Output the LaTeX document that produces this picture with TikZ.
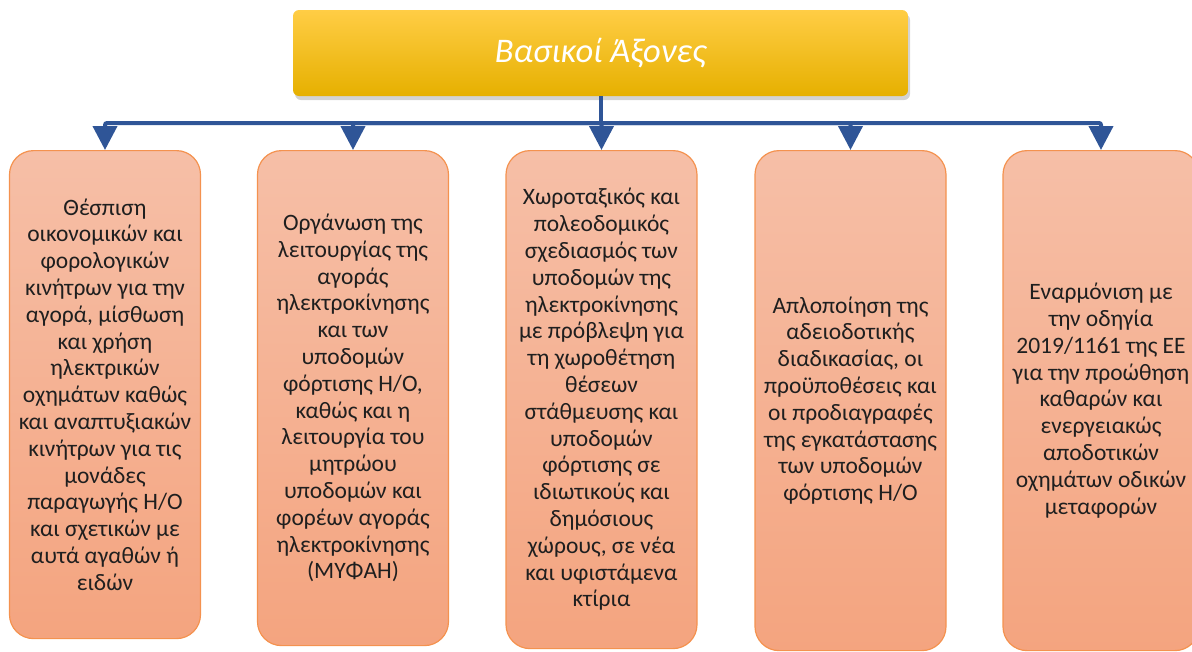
\documentclass[tikz,border=0pt]{standalone}
\usepackage{fontspec}
\setmainfont{Carlito}
\usetikzlibrary{positioning, arrows.meta, shadows}

\definecolor{goldtop}{HTML}{FFCD45}
\definecolor{goldmid}{HTML}{FFC000}
\definecolor{goldbot}{HTML}{E6B000}
\definecolor{boxtop}{HTML}{F6BFA7}
\definecolor{boxbot}{HTML}{F4A47F}
\definecolor{boxedge}{HTML}{F4924F}
\definecolor{boxtext}{HTML}{1F1F1F}
\definecolor{linkblue}{HTML}{2F5597}

\begin{document}
\begin{tikzpicture}[
        x=1pt, y=-1pt,
        font=\fontsize{23.5}{26.8}\selectfont,
        >={Triangle[length=24pt, width=24pt]},
        % Styles
        title/.style={% For the main box
            rectangle,
            rounded corners=6pt,
            top color=goldtop,
            middle color=goldmid,
            bottom color=goldbot,
            minimum width=615pt,
            minimum height=86pt,
            drop shadow={shadow xshift=2pt, shadow yshift=-4pt, opacity=0.35},
            text=white,
            font=\fontsize{34.5}{40}\selectfont\itshape,
            },
        axis/.style={% For the five boxes below
            rectangle,
            rounded corners=24pt,
            draw=boxedge,
            line width=1.2pt,
            top color=boxtop,
            bottom color=boxbot,
            minimum width=191pt,
            inner sep=2pt,
            align=center,
            text=boxtext,
            anchor=north,
            },
        link/.style={% Blue connectors
            draw=linkblue,
            line width=4pt,
            rounded corners=2pt,
            },
        ]
    \useasboundingbox (0,0) rectangle (1192,651);

    % Nodes
        % Main box
        \node [title] (title) at (600.5,53) {Βασικοί Άξονες};

        % Boxes named b#
        \node [axis, minimum height=488pt] (b1) at (105,150) {Θέσπιση\\οικονομικών και\\φορολογικών\\κινήτρων για την\\αγορά, μίσθωση\\και χρήση\\ηλεκτρικών\\οχημάτων καθώς\\και αναπτυξιακών\\κινήτρων για τις\\μονάδες\\παραγωγής Η/Ο\\και σχετικών με\\αυτά αγαθών ή\\ειδών};
        \node [axis, minimum height=495pt] (b2) at (353,150) {Οργάνωση της\\λειτουργίας της\\αγοράς\\ηλεκτροκίνησης\\και των\\υποδομών\\φόρτισης Η/Ο,\\καθώς και η\\λειτουργία του\\μητρώου\\υποδομών και\\φορέων αγοράς\\ηλεκτροκίνησης\\(ΜΥΦΑΗ)};
        \node [axis, minimum height=498pt] (b3) at (601.5,150) {Χωροταξικός και\\πολεοδομικός\\σχεδιασμός των\\υποδομών της\\ηλεκτροκίνησης\\με πρόβλεψη για\\τη χωροθέτηση\\θέσεων\\στάθμευσης και\\υποδομών\\φόρτισης σε\\ιδιωτικούς και\\δημόσιους\\χώρους, σε νέα\\και υφιστάμενα\\κτίρια};
        \node [axis, minimum height=500pt] (b4) at (850.5,150) {Απλοποίηση της\\αδειοδοτικής\\διαδικασίας, οι\\προϋποθέσεις και\\οι προδιαγραφές\\της εγκατάστασης\\των υποδομών\\φόρτισης Η/Ο};
        \node [axis, minimum height=500pt, minimum width=196pt] (b5) at (1101,150) {Εναρμόνιση με\\την οδηγία\\2019/1161 της ΕΕ\\για την προώθηση\\καθαρών και\\ενεργειακώς\\αποδοτικών\\οχημάτων οδικών\\μεταφορών};

    % Connectors
        \coordinate (fork) at (600.5,123);
        \draw [link] (title.south) -- (fork);
        \foreach \b in {b1,b2,b3,b4,b5}
            \draw [link, ->] (fork) -| (\b.north);

\end{tikzpicture}
\end{document}
